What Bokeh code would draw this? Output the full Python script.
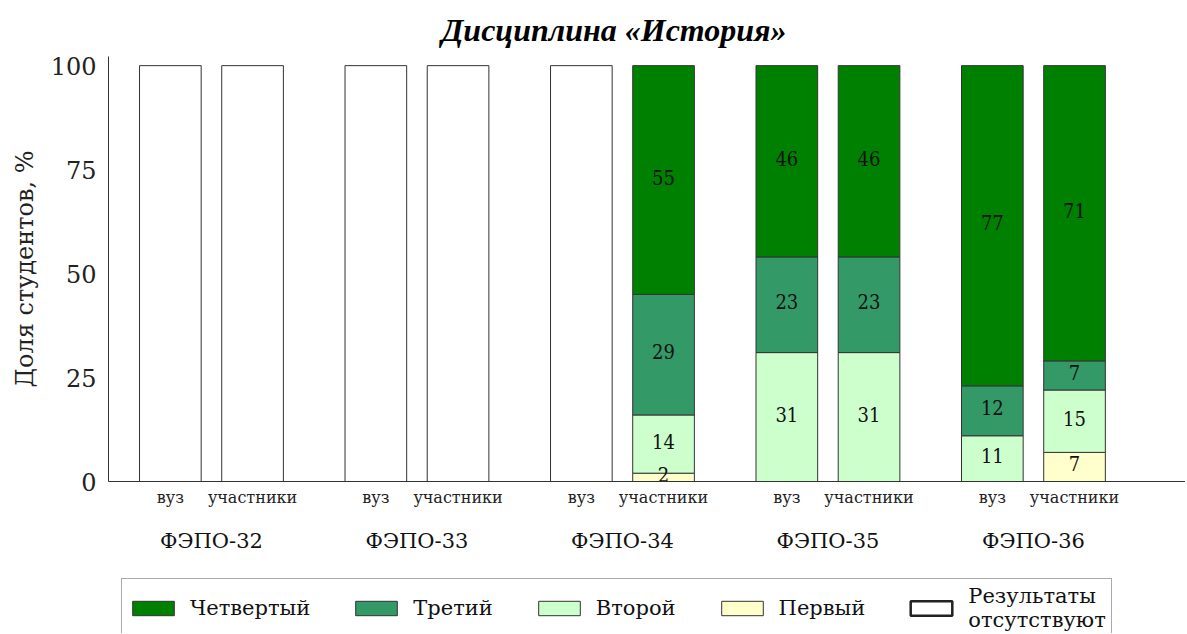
from bokeh.plotting import figure
from bokeh.layouts import column
from bokeh.models import (ColumnDataSource, LinearAxis, FixedTicker, Legend,
                          LegendItem, Range1d)
from bokeh.core.properties import value
from bokeh.embed import file_html
from bokeh.resources import INLINE

# ---------------- data ----------------
groups = ["ФЭПО-32", "ФЭПО-33", "ФЭПО-34", "ФЭПО-35", "ФЭПО-36"]
subgroups = ["вуз", "участники"]
level_names = ["Четвертый", "Третий", "Второй", "Первый"]
absent_name = "Результаты\nотсутствуют"

# bar order: (32 вуз, 32 участники, 33 вуз, 33 участники, ..., 36 участники)
has_results = [False, False, False, False, False, True, True, True, True, True]
first  = [0, 0, 0, 0, 0, 2, 0, 0, 0, 7]
second = [0, 0, 0, 0, 0, 14, 31, 31, 11, 15]
third  = [0, 0, 0, 0, 0, 29, 23, 23, 12, 7]
fourth = [0, 0, 0, 0, 0, 55, 46, 46, 77, 71]

yticks = [0, 25, 50, 75, 100]

# ---------------- styles ----------------
C_FOURTH = "#008000"
C_THIRD = "#339966"
C_SECOND = "#CCFFCC"
C_FIRST = "#FFFFCC"
EDGE = "#333333"
SERIF = "DejaVu Serif"

offsets = [-0.2, 0.2]
bar_w = 0.30

xs, sub_labels = [], []
for gi, g in enumerate(groups):
    for si, s in enumerate(subgroups):
        xs.append(gi + offsets[si])
        sub_labels.append(s)

src = ColumnDataSource(dict(x=xs, first=first, second=second, third=third,
                            fourth=fourth))
absent_x = [x for x, h in zip(xs, has_results) if not h]
absent_src = ColumnDataSource(dict(x=absent_x, top=[100] * len(absent_x)))

# labels in the middle of each segment
lx, ly, lt = [], [], []
for i, x in enumerate(xs):
    if not has_results[i]:
        continue
    bottom = 0
    for v in (first[i], second[i], third[i], fourth[i]):
        if v > 0:
            lx.append(x)
            ly.append(bottom + v / 2)
            lt.append(str(v))
        bottom += v
lab_src = ColumnDataSource(dict(x=lx, y=ly, t=lt))

W = 1185
p = figure(width=W, height=555, output_backend="svg", toolbar_location=None,
           x_range=Range1d(-0.501, 4.74), y_range=Range1d(0, 102.2),
           x_axis_location=None, y_axis_location=None,
           min_border_left=108, min_border_right=0, min_border_top=56,
           min_border_bottom=74)
p.outline_line_color = None
p.xgrid.visible = False
p.ygrid.visible = False

# title
p.title.text = "Дисциплина «История»"
p.title.text_font = "Liberation Serif"
p.title.text_font_style = "bold italic"
p.title.text_font_size = "32px"
p.title.align = "left"
p.title.offset = 333
p.title.standoff = 18
p.title.text_color = "black"

# bars
stack = p.vbar_stack(["first", "second", "third", "fourth"], x="x", width=bar_w,
                     source=src, color=[C_FIRST, C_SECOND, C_THIRD, C_FOURTH],
                     line_width=1)
for r in stack:
    r.glyph.line_color = EDGE
p.vbar(x="x", top="top", width=bar_w, source=absent_src,
       fill_color="white", line_color=EDGE, line_width=1)

p.text(x="x", y="y", text="t", source=lab_src, text_align="center",
       text_baseline="middle", y_offset=-3,
       text_font=value("DejaVu Serif Condensed"),
       text_font_size="20px", text_color="#111111")

# y axis
yax = LinearAxis(ticker=FixedTicker(ticks=yticks), axis_label="Доля студентов, %")
yax.major_tick_line_color = None
yax.minor_tick_line_color = None
yax.major_tick_out = 0
yax.major_tick_in = 0
yax.minor_tick_out = 0
yax.axis_line_color = EDGE
yax.major_label_text_font = SERIF
yax.major_label_text_font_size = "24px"
yax.major_label_text_color = "#222222"
yax.major_label_standoff = 12
yax.axis_label_text_font = SERIF
yax.axis_label_text_font_style = "normal"
yax.axis_label_text_font_size = "24px"
yax.axis_label_text_color = "#222222"
yax.axis_label_standoff = 9
p.add_layout(yax, "left")

# x axis: subgroup labels
xax1 = LinearAxis(ticker=FixedTicker(ticks=xs),
                  major_label_overrides={x: s for x, s in zip(xs, sub_labels)})
xax1.major_tick_line_color = None
xax1.minor_tick_line_color = None
xax1.major_tick_out = 0
xax1.major_tick_in = 0
xax1.minor_tick_out = 0
xax1.axis_line_color = EDGE
xax1.major_label_text_font = SERIF
xax1.major_label_text_font_size = "16px"
xax1.major_label_text_color = "#222222"
xax1.major_label_standoff = 6
p.add_layout(xax1, "below")

# x axis: group labels
gticks = list(range(len(groups)))
xax2 = LinearAxis(ticker=FixedTicker(ticks=gticks),
                  major_label_overrides={i: g for i, g in enumerate(groups)})
xax2.major_tick_line_color = None
xax2.minor_tick_line_color = None
xax2.major_tick_out = 0
xax2.major_tick_in = 0
xax2.minor_tick_out = 0
xax2.axis_line_color = None
xax2.major_label_text_font = SERIF
xax2.major_label_text_font_size = "21px"
xax2.major_label_text_color = "#111111"
xax2.major_label_standoff = 19
p.add_layout(xax2, "below")

# ---------------- legend (separate strip) ----------------
p2 = figure(width=W, height=78, output_backend="svg", toolbar_location=None,
            x_range=Range1d(0, 1), y_range=Range1d(0, 1),
            x_axis_location=None, y_axis_location=None,
            min_border_left=108, min_border_right=0, min_border_top=10,
            min_border_bottom=0)
p2.outline_line_color = None
p2.xgrid.visible = False
p2.ygrid.visible = False

leg_colors = [C_FOURTH, C_THIRD, C_SECOND, C_FIRST]
items = []
for name, c in zip(level_names, leg_colors):
    r = p2.vbar(x=[0.5], top=[0.5], width=0.1, fill_color=c, line_color=EDGE,
                line_width=1, visible=False)
    items.append(LegendItem(label=name, renderers=[r]))
r_abs = p2.vbar(x=[0.5], top=[0.5], width=0.1, fill_color="white",
                line_color="#222222", line_width=2.5, visible=False)
items.append(LegendItem(label=absent_name, renderers=[r_abs]))

legend = Legend(items=items, orientation="horizontal", location="top_left")
legend.label_text_font = SERIF
legend.label_text_font_size = "21px"
legend.label_text_color = "#111111"
legend.glyph_width = 52
legend.glyph_height = 18
legend.label_standoff = 11
legend.spacing = 40
legend.padding = 5
legend.margin = 13
legend.border_line_color = "#555555"
legend.border_line_width = 1.5
legend.background_fill_alpha = 1
legend.inactive_fill_alpha = 0
p2.add_layout(legend, "center")

open("out.html", "w").write(file_html(column(p, p2), INLINE))
